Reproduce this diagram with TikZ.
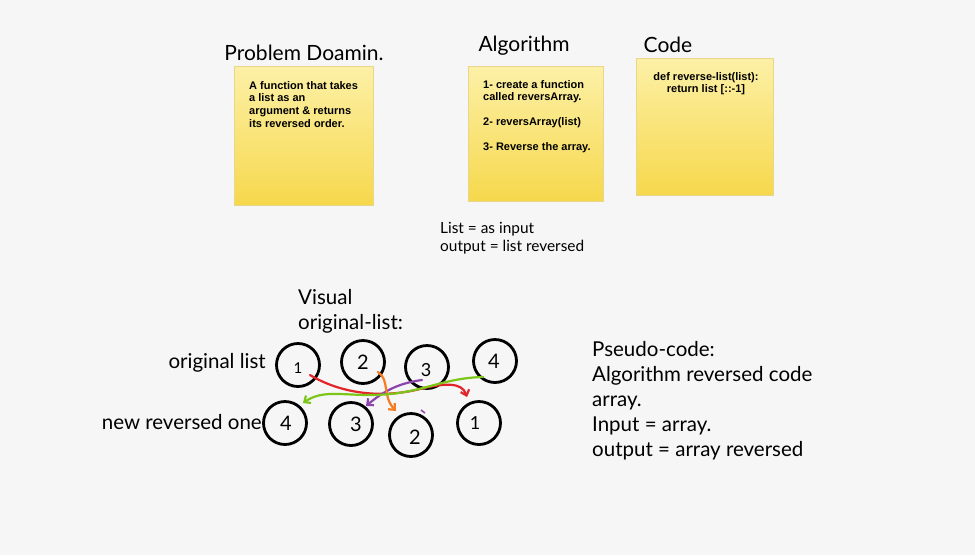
\documentclass[tikz,border=0pt]{standalone}
\usepackage{fontspec}
\setmainfont{Lato}
\newfontfamily\notefont{Liberation Sans}
\usetikzlibrary{arrows.meta}
\definecolor{bg}{HTML}{F6F6F6}
\definecolor{notetop}{HTML}{FCF0A6}
\definecolor{notebot}{HTML}{F6D84C}
\definecolor{noteedge}{HTML}{E8D68A}
\definecolor{cred}{HTML}{E3242B}
\definecolor{cgreen}{HTML}{7CC617}
\definecolor{corange}{HTML}{F57C20}
\definecolor{cpurple}{HTML}{8E44AD}
\begin{document}
\begin{tikzpicture}[x=1pt,y=-1pt,
  note/.style={draw=noteedge, line width=0.6pt, top color=notetop, bottom color=notebot, anchor=north west, inner sep=0},
  notetext/.style={font=\notefont\bfseries\fontsize{11}{12.8}\selectfont, inner sep=0, anchor=north west, align=left},
  title/.style={font=\fontsize{21}{24}\selectfont, inner sep=0},
  hand/.style={font=\fontsize{20.5}{25}\selectfont, inner sep=0, anchor=north west, align=left},
  small/.style={font=\fontsize{15.4}{18}\selectfont, inner sep=0, anchor=north west, align=left},
  circ/.style={circle, draw, line width=2.8pt, minimum size=43pt, inner sep=0},
  num/.style={font=\fontsize{20}{20}\selectfont, inner sep=0},
  arr/.style={line width=2.2pt, -{Straight Barb[length=5pt,width=9pt]}, line cap=round}
]
\fill[bg] (0,0) rectangle (975,555);
\useasboundingbox (0,0) rectangle (975,555);

% titles
\node[title] (t1) at (304,53) {Problem Doamin.};
\node[title] (t2) at (524,46) {Algorithm};
\node[title] (t3) at (668,45) {Code};

% sticky notes
\node[note, minimum width=139pt, minimum height=139pt] (n1) at (234,66) {};
\node[note, minimum width=135pt, minimum height=135pt] (n2) at (468,66) {};
\node[note, minimum width=137pt, minimum height=137pt] (n3) at (636,58) {};

\node[notetext] (n1t) at (249,81) {A function that takes\\a list as an\\argument \& returns\\its reversed order.};
\node[notetext] (n2t) at (483,80) {1- create a function\\called reversArray.\\[12.2pt]2- reversArray(list)\\[12.2pt]3- Reverse the array.};
\node[notetext, anchor=north, align=center] (n3t) at (706,72) {def reverse-list(list):\\return list [::-1]};

\node[small] (io) at (440,222) {List = as input\\output = list reversed};

\node[hand] (vis) at (298,289) {Visual\\original-list:};

% circles
\node[circ] (a1) at (298,365) {};
\node[circ] (a2) at (363,362) {};
\node[circ] (a3) at (427,367) {};
\node[circ] (a4) at (495,361) {};
\node[circ] (b4) at (285,423) {};
\node[circ] (b3) at (351,424) {};
\node[circ] (b2) at (411,435) {};
\node[circ] (b1) at (479,423) {};

\node[num, font=\fontsize{15}{15}\selectfont] (l1) at (298,368) {1};
\node[num] (l2) at (363,362) {2};
\node[num, font=\fontsize{18}{18}\selectfont] (l3) at (426,370) {3};
\node[num] (l4) at (494,361) {4};
\node[num] (m4) at (286,423) {4};
\node[num] (m3) at (356,424) {3};
\node[num] (m2) at (415,437) {2};
\node[num, font=\fontsize{18}{18}\selectfont] (m1) at (475,423) {1};

\node[hand, anchor=east] (ol) at (266,363) {original list};
\node[hand, anchor=east] (nr) at (262,422) {new reversed one};

% arrows
\coordinate (redS) at (310,375);
\coordinate (redE) at (467,397);
\coordinate (grS) at (483,377);
\coordinate (grE) at (303,403);
\coordinate (orS) at (378,372);
\coordinate (orE) at (396,411);
\coordinate (puS) at (422,380);
\coordinate (puE) at (366,406);
\draw[arr, cred] (redS) .. controls (340,393) and (380,399) .. (420,389) .. controls (445,383) and (462,382) .. (redE);
\draw[arr, cpurple] (puS) .. controls (400,383) and (385,390) .. (puE);
\draw[arr, corange] (orS) .. controls (390,380) and (382,396) .. (orE);
\draw[arr, cgreen] (grS) .. controls (440,378) and (420,395) .. (370,395) .. controls (340,395) and (322,390) .. (grE);
\draw[cpurple, line width=1.5pt] (421,410) -- (425,413);

\node[hand] (ps) at (592,341) {Pseudo-code:\\Algorithm reversed code\\array.\\Input = array.\\output = array reversed};
\end{tikzpicture}
\end{document}
